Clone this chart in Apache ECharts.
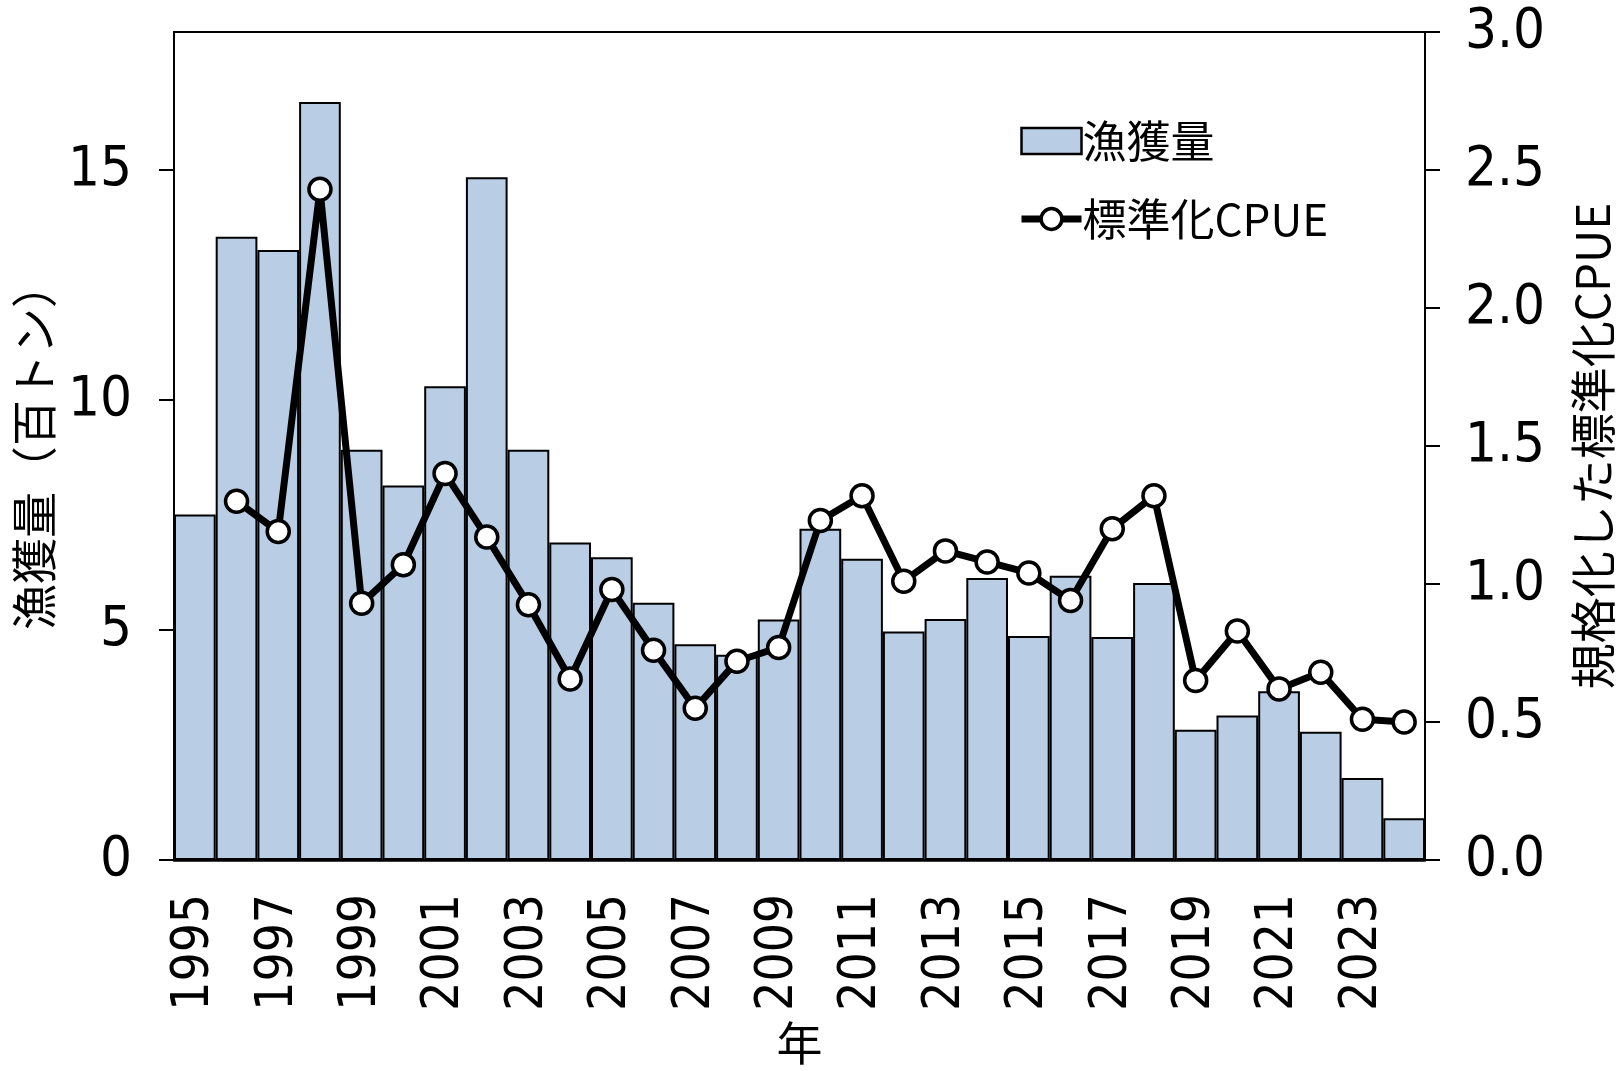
<!DOCTYPE html>
<html>
<head>
<meta charset="utf-8">
<script src="https://cdn.jsdelivr.net/npm/echarts@6/dist/echarts.min.js"></script>
<style>
  html, body { margin: 0; padding: 0; background: #fff; }
  #chart { width: 1624px; height: 1071px; }
</style>
</head>
<body>
<div id="chart"></div>
<script>
  // 年
  const years = ['1995', '1996', '1997', '1998', '1999', '2000', '2001', '2002', '2003', '2004',
    '2005', '2006', '2007', '2008', '2009', '2010', '2011', '2012', '2013', '2014',
    '2015', '2016', '2017', '2018', '2019', '2020', '2021', '2022', '2023', '2024'];
  // 漁獲量（百トン）
  const catchAmount = [7.51, 13.55, 13.26, 16.48, 8.92, 8.14, 10.30, 14.84, 8.92, 6.90,
    6.58, 5.59, 4.69, 4.46, 5.23, 7.20, 6.55, 4.97, 5.24, 6.13,
    4.87, 6.18, 4.85, 6.02, 2.83, 3.14, 3.67, 2.79, 1.78, 0.91];
  // 標準化CPUE（1995 はなし）
  const cpue = [null, 1.30, 1.19, 2.43, 0.93, 1.07, 1.40, 1.17, 0.925, 0.656,
    0.98, 0.76, 0.55, 0.72, 0.77, 1.23, 1.32, 1.01, 1.12, 1.08,
    1.04, 0.94, 1.20, 1.32, 0.65, 0.83, 0.62, 0.68, 0.51, 0.50];
  const leftTicks = [0, 5, 10, 15];

  const numFont = "'DejaVu Sans Condensed', 'Liberation Sans Narrow', 'Liberation Sans', sans-serif";
  const jpFont = "'Noto Sans CJK JP', sans-serif";

  const chart = echarts.init(document.getElementById('chart'));
  const option = {
    animation: false,
    backgroundColor: '#fff',
    grid: {
      left: 174, right: 198, top: 32, bottom: 207,
      show: true, borderColor: '#000', borderWidth: 2
    },
    legend: {
      orient: 'vertical',
      left: 1013, top: 114,
      itemWidth: 60, itemHeight: 26,
      itemGap: 34,
      textStyle: { fontFamily: jpFont, fontSize: 44, color: '#000', padding: [0, 0, 0, -4] },
      data: [
        { name: '漁獲量', icon: 'rect', itemStyle: { borderWidth: 2.5 } },
        { name: '標準化CPUE', lineStyle: { width: 7, color: '#000' },
          itemStyle: { color: '#fff', borderColor: '#000', borderWidth: 3.5 } }
      ]
    },
    xAxis: {
      type: 'category',
      data: years,
      name: '年',
      nameLocation: 'middle',
      nameGap: 160,
      nameTextStyle: { fontFamily: jpFont, fontSize: 46, color: '#000' },
      axisLine: { show: true, lineStyle: { color: '#000', width: 2.5 } },
      axisTick: { show: false },
      axisLabel: {
        interval: 1, rotate: 90, margin: 34,
        fontFamily: numFont, fontSize: 51, color: '#000'
      }
    },
    yAxis: [
      {
        type: 'value', min: 0, max: 18,
        name: '漁獲量（百トン）',
        nameLocation: 'middle', nameRotate: 90, nameGap: 110,
        nameTextStyle: { fontFamily: jpFont, fontSize: 46, color: '#000' },
        splitLine: { show: false },
        axisLine: { show: true, lineStyle: { color: '#000', width: 2 } },
        axisTick: { show: true, length: 15, lineStyle: { width: 2 }, customValues: leftTicks },
        axisLabel: { margin: 42, fontFamily: numFont, fontSize: 56, color: '#000', customValues: leftTicks }
      },
      {
        type: 'value', min: 0, max: 3, interval: 0.5,
        name: '規格化した標準化CPUE',
        nameLocation: 'middle', nameRotate: 90, nameGap: 145,
        nameTextStyle: { fontFamily: jpFont, fontSize: 46, color: '#000' },
        splitLine: { show: false },
        axisLine: { show: true, lineStyle: { color: '#000', width: 2 } },
        axisTick: { show: true, length: 15, lineStyle: { width: 2 } },
        axisLabel: {
          margin: 40, fontFamily: numFont, fontSize: 56, color: '#000',
          formatter: v => v.toFixed(1)
        }
      }
    ],
    series: [
      {
        name: '漁獲量',
        type: 'bar',
        data: catchAmount,
        barCategoryGap: 0,
        itemStyle: { color: '#b9cde5', borderColor: '#000', borderWidth: 2 }
      },
      {
        name: '標準化CPUE',
        type: 'line',
        yAxisIndex: 1,
        data: cpue,
        symbol: 'circle',
        symbolSize: 22,
        lineStyle: { color: '#000', width: 7 },
        itemStyle: { color: '#fff', borderColor: '#000', borderWidth: 3.5 }
      }
    ]
  };
  option && chart.setOption(option);
</script>
</body>
</html>
